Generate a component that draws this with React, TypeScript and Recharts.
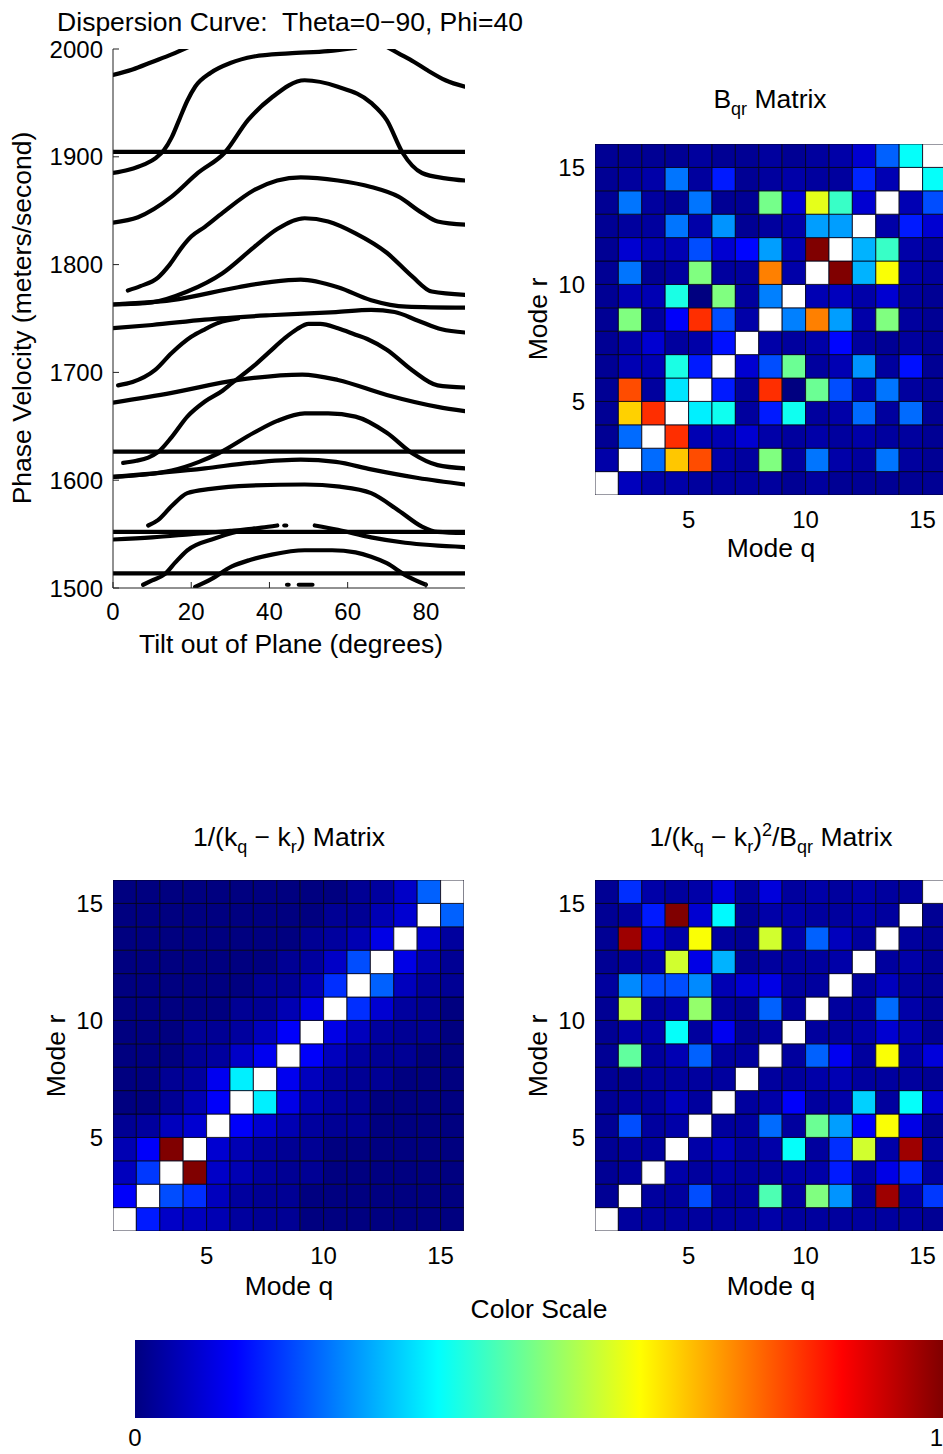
import React from "react";
import { Bar, BarChart, Cell, Line, LineChart, XAxis, YAxis } from "recharts";

const FONT = "'Liberation Sans', Arial, Helvetica, sans-serif";

type Pt = [number, number];

// ---- dispersion curves: [tilt (deg), phase velocity (m/s)] ----
const flat1904: Pt[] = [[0, 1904.5], [90, 1904.5]];
const flat1626: Pt[] = [[0, 1626.5], [90, 1626.5]];
const flat1552: Pt[] = [[0, 1552], [90, 1552]];
const flat1513: Pt[] = [[0, 1513.5], [90, 1513.5]];

const curveA: Pt[] = [[0, 1976], [5, 1981], [10, 1988], [15, 1995], [20, 2003]];
const curveB: Pt[] = [[0, 1885], [4, 1888], [8, 1893], [11, 1899], [13, 1906], [15, 1918], [17, 1935], [19, 1952], [21, 1965], [25, 1978], [30, 1987], [36, 1993], [45, 1996], [55, 1998], [62, 2001]];
const curveC: Pt[] = [[70, 2002], [73, 1996], [77, 1988], [80.5, 1980], [85, 1971], [90, 1965]];
const curveD: Pt[] = [[0, 1839], [6.4, 1844], [15, 1863], [21.7, 1885], [28.6, 1904], [34.5, 1934], [40.6, 1955], [49, 1971], [57.5, 1965], [66, 1950], [70, 1934], [74, 1904], [79, 1885], [85, 1880], [90, 1878]];
const curveE: Pt[] = [[3.8, 1776], [7, 1780], [11.5, 1788], [14.5, 1800], [17.6, 1816], [20, 1826], [23.5, 1835], [28, 1848], [36, 1869], [42, 1878], [48, 1881], [57.5, 1878], [66, 1872], [73, 1863], [79, 1848], [83, 1840], [90, 1837]];
const curveF: Pt[] = [[0, 1763], [10, 1765], [19, 1775], [28, 1792], [36, 1816], [42, 1833], [49, 1843], [55, 1840], [62, 1829], [70, 1811], [76.5, 1789], [81.5, 1775], [90, 1772]];
const curveG: Pt[] = [[0, 1763], [15, 1767], [32, 1779], [40.6, 1784], [48, 1786], [57.5, 1779], [66, 1767], [75, 1761], [90, 1760]];
const curveH: Pt[] = [[0, 1741], [10, 1744], [23.5, 1749], [40, 1753], [57, 1756], [66, 1758], [72, 1756], [78, 1748], [84, 1740], [90, 1737]];
const curveI: Pt[] = [[1.3, 1688], [5, 1691], [10.7, 1702], [15, 1718], [20, 1733], [23.5, 1740], [27, 1746], [32, 1750]];
const curveJ: Pt[] = [[0, 1672], [15, 1681], [32, 1693], [48.4, 1698], [57.5, 1693], [70, 1679], [83, 1668], [90, 1664]];
const curveK: Pt[] = [[2.6, 1616], [6, 1618], [9, 1621], [11.5, 1626], [15, 1640], [19, 1659], [23.5, 1673], [28, 1683], [30.4, 1690], [36, 1706], [40, 1719], [44, 1732], [47, 1740], [50, 1745], [53, 1745], [57.5, 1741], [62, 1735], [65, 1731], [70, 1721], [76.5, 1702], [83, 1688], [90, 1686]];
const curveL: Pt[] = [[0, 1603], [15, 1609], [22, 1617], [27, 1625], [36, 1644], [42, 1655], [49, 1662], [55, 1662], [62, 1659], [70, 1644], [76.5, 1625], [83, 1614], [90, 1611]];
const curveM: Pt[] = [[0, 1603], [23.5, 1611], [35, 1616], [48, 1619], [57, 1617], [66, 1610], [78, 1602], [90, 1596]];
const curveN: Pt[] = [[9, 1558], [11.5, 1563], [15, 1576], [19, 1588], [25, 1592], [35, 1595], [49, 1596], [58, 1594], [66, 1588], [73, 1572], [79, 1557], [83, 1552], [90, 1551]];
const curveO1: Pt[] = [[0, 1545], [10, 1547], [20, 1550], [30, 1553], [38, 1556], [42, 1558]];
const curveO2: Pt[] = [[51.6, 1558], [57.5, 1554], [66, 1547], [74.7, 1542], [90, 1538]];
const curveP: Pt[] = [[7.7, 1503], [10, 1507], [13.3, 1513], [16, 1524], [19, 1535], [26, 1546], [30.4, 1551], [36, 1555]];
const curveQ: Pt[] = [[21, 1501], [25, 1508], [30.4, 1520], [35, 1526], [40.6, 1531], [49, 1535], [56, 1535], [62, 1533], [66, 1529], [70, 1523], [74.7, 1512], [80, 1503]];
const dot44: Pt[] = [[43.8, 1558], [44.3, 1558]];
const dotBottom: Pt[] = [[44.5, 1503], [44.9, 1503]];
const dashBottom: Pt[] = [[47.5, 1503], [51, 1503]];

const dispersionCurves: Pt[][] = [
  flat1904, flat1626, flat1552, flat1513,
  curveA, curveB, curveC, curveD, curveE, curveF, curveG, curveH, curveI,
  curveJ, curveK, curveL, curveM, curveN, curveO1, curveO2, curveP, curveQ,
  dot44, dotBottom, dashBottom,
];

const tiltTicks = [0, 20, 40, 60, 80];
const velocityTicks = [1500, 1600, 1700, 1800, 1900, 2000];

// ---- matrices: rows listed from r=15 (top) down to r=1, columns q=1..15 ----
const modes = [1, 2, 3, 4, 5, 6, 7, 8, 9, 10, 11, 12, 13, 14, 15];
const modeTicks = [5, 10, 15];

const bqrMatrix: (number | null)[][] = [
  [0.02, 0.02, 0.02, 0.02, 0.03, 0.02, 0.02, 0.03, 0.02, 0.03, 0.04, 0.08, 0.22, 0.38, null],
  [0.02, 0.03, 0.04, 0.24, 0.03, 0.15, 0.02, 0.03, 0.04, 0.03, 0.03, 0.16, 0.05, null, 0.38],
  [0.02, 0.24, 0.03, 0.02, 0.24, 0.02, 0.02, 0.49, 0.08, 0.6, 0.43, 0.08, null, 0.05, 0.2],
  [0.02, 0.03, 0.03, 0.24, 0.04, 0.27, 0.02, 0.03, 0.04, 0.28, 0.28, null, 0.04, 0.15, 0.08],
  [0.02, 0.08, 0.05, 0.05, 0.2, 0.08, 0.13, 0.28, 0.05, 1.0, null, 0.3, 0.43, 0.04, 0.03],
  [0.02, 0.24, 0.02, 0.03, 0.5, 0.03, 0.03, 0.75, 0.04, null, 1.0, 0.3, 0.62, 0.04, 0.03],
  [0.02, 0.05, 0.05, 0.4, 0.0, 0.5, 0.03, 0.25, null, 0.05, 0.06, 0.04, 0.08, 0.03, 0.02],
  [0.02, 0.5, 0.03, 0.12, 0.83, 0.2, 0.04, null, 0.25, 0.75, 0.28, 0.04, 0.5, 0.03, 0.02],
  [0.02, 0.04, 0.08, 0.03, 0.04, 0.14, null, 0.04, 0.03, 0.04, 0.13, 0.03, 0.02, 0.03, 0.02],
  [0.02, 0.05, 0.05, 0.4, 0.15, null, 0.08, 0.2, 0.48, 0.03, 0.05, 0.27, 0.03, 0.14, 0.02],
  [0.02, 0.8, 0.03, 0.35, null, 0.15, 0.03, 0.83, 0.0, 0.48, 0.2, 0.04, 0.24, 0.03, 0.02],
  [0.02, 0.67, 0.83, null, 0.36, 0.39, 0.03, 0.15, 0.39, 0.03, 0.04, 0.23, 0.03, 0.23, 0.02],
  [0.02, 0.23, null, 0.83, 0.05, 0.05, 0.08, 0.04, 0.03, 0.04, 0.03, 0.04, 0.03, 0.03, 0.02],
  [0.04, null, 0.23, 0.68, 0.8, 0.04, 0.03, 0.5, 0.03, 0.24, 0.04, 0.03, 0.24, 0.03, 0.02],
  [null, 0.06, 0.04, 0.04, 0.03, 0.03, 0.03, 0.03, 0.02, 0.03, 0.02, 0.02, 0.02, 0.02, 0.02],
];

const invDkMatrix: (number | null)[][] = [
  [0, 0, 0, 0, 0, 0, 0, 0, 0, 0, 0.02, 0.03, 0.07, 0.22, null],
  [0, 0, 0, 0, 0, 0, 0, 0, 0, 0.02, 0.02, 0.05, 0.08, null, 0.22],
  [0, 0, 0, 0, 0, 0, 0, 0, 0.02, 0.03, 0.05, 0.1, null, 0.08, 0.03],
  [0, 0, 0, 0, 0, 0, 0, 0.02, 0.03, 0.07, 0.2, null, 0.1, 0.05, 0.02],
  [0, 0, 0, 0, 0, 0, 0.02, 0.02, 0.05, 0.17, null, 0.22, 0.06, 0.03, 0.02],
  [0, 0, 0, 0, 0, 0.02, 0.02, 0.05, 0.1, null, 0.17, 0.08, 0.03, 0.02, 0],
  [0, 0, 0, 0.02, 0.02, 0.03, 0.06, 0.12, null, 0.1, 0.06, 0.03, 0.02, 0.02, 0],
  [0, 0, 0, 0.02, 0.03, 0.07, 0.11, null, 0.12, 0.06, 0.03, 0.02, 0.02, 0, 0],
  [0, 0, 0.02, 0.03, 0.11, 0.36, null, 0.11, 0.06, 0.03, 0.02, 0.02, 0, 0, 0],
  [0, 0, 0.02, 0.05, 0.12, null, 0.36, 0.1, 0.05, 0.03, 0.02, 0, 0, 0, 0],
  [0.02, 0.03, 0.06, 0.08, null, 0.12, 0.08, 0.05, 0.03, 0.02, 0.02, 0, 0, 0, 0],
  [0.05, 0.12, 1.0, null, 0.08, 0.05, 0.03, 0.02, 0.02, 0, 0, 0, 0, 0, 0],
  [0.06, 0.18, null, 1.0, 0.07, 0.05, 0.03, 0.02, 0.02, 0, 0, 0, 0, 0, 0],
  [0.12, null, 0.2, 0.17, 0.06, 0.03, 0.02, 0.02, 0, 0, 0, 0, 0, 0, 0],
  [null, 0.15, 0.07, 0.06, 0.05, 0.03, 0.02, 0.02, 0, 0, 0, 0, 0, 0, 0],
];

const ratioMatrix: (number | null)[][] = [
  [0.02, 0.17, 0.04, 0.03, 0.04, 0.09, 0.03, 0.09, 0.03, 0.04, 0.03, 0.04, 0.03, 0.03, null],
  [0.02, 0.03, 0.15, 1.0, 0.08, 0.37, 0.02, 0.04, 0.04, 0.03, 0.03, 0.04, 0.03, null, 0.02],
  [0.02, 0.97, 0.08, 0.04, 0.62, 0.03, 0.02, 0.58, 0.04, 0.22, 0.06, 0.03, null, 0.03, 0.02],
  [0.02, 0.03, 0.04, 0.58, 0.1, 0.3, 0.02, 0.03, 0.03, 0.03, 0.04, null, 0.03, 0.04, 0.02],
  [0.03, 0.26, 0.2, 0.2, 0.26, 0.05, 0.08, 0.1, 0.03, 0.03, null, 0.03, 0.06, 0.03, 0.02],
  [0.02, 0.56, 0.03, 0.04, 0.52, 0.03, 0.02, 0.22, 0.03, null, 0.03, 0.03, 0.23, 0.04, 0.02],
  [0.02, 0.04, 0.04, 0.38, 0.03, 0.11, 0.02, 0.03, null, 0.03, 0.03, 0.04, 0.08, 0.05, 0.02],
  [0.02, 0.47, 0.03, 0.05, 0.22, 0.03, 0.03, null, 0.03, 0.22, 0.11, 0.03, 0.62, 0.04, 0.09],
  [0.02, 0.02, 0.03, 0.03, 0.03, 0.03, null, 0.03, 0.03, 0.04, 0.05, 0.03, 0.03, 0.03, 0.02],
  [0.02, 0.03, 0.03, 0.06, 0.03, null, 0.03, 0.04, 0.12, 0.03, 0.04, 0.33, 0.03, 0.38, 0.08],
  [0.02, 0.2, 0.03, 0.04, null, 0.03, 0.03, 0.23, 0.03, 0.48, 0.28, 0.12, 0.62, 0.1, 0.02],
  [0.02, 0.03, 0.03, null, 0.04, 0.06, 0.03, 0.04, 0.38, 0.03, 0.17, 0.58, 0.04, 0.97, 0.03],
  [0.02, 0.03, null, 0.04, 0.03, 0.04, 0.03, 0.03, 0.04, 0.04, 0.15, 0.04, 0.1, 0.16, 0.03],
  [0.02, null, 0.03, 0.03, 0.2, 0.03, 0.03, 0.45, 0.03, 0.5, 0.27, 0.03, 0.97, 0.04, 0.18],
  [null, 0.03, 0.03, 0.03, 0.03, 0.03, 0.03, 0.04, 0.03, 0.03, 0.03, 0.03, 0.03, 0.03, 0.02],
];

const colorScale = [{ name: "Color Scale", value: 1 }];
const colorStops = [0, 0.125, 0.375, 0.625, 0.875, 1];
const colorTicks = [0, 1];

// MATLAB jet colormap
function jet(v: number | null): string {
  if (v === null) return "#ffffff";
  const c = (x: number) => Math.max(0, Math.min(1, x));
  const r = c(1.5 - Math.abs(4 * v - 3));
  const g = c(1.5 - Math.abs(4 * v - 2));
  const b = c(1.5 - Math.abs(4 * v - 1));
  return `rgb(${Math.round(r * 255)},${Math.round(g * 255)},${Math.round(b * 255)})`;
}

const PLOT = 351;
const tickStyle = { fontSize: 24, fill: "#000", fontFamily: FONT };

function MatrixPanel({ left, top, values }: { left: number; top: number; values: (number | null)[][] }) {
  const data = modes.map((q) => {
    const row: Record<string, number> = { q: q + 0.5, base: 1 };
    modes.forEach((r) => {
      row[`r${r}`] = 1;
    });
    return row;
  });
  // just under the band width, otherwise recharts shrinks bars to 90%
  const cell = PLOT / modes.length - 0.1;
  return (
    <div style={{ position: "absolute", left: left - 60, top: top - 10 }}>
      <BarChart
        width={60 + PLOT + 10}
        height={10 + PLOT + 50}
        data={data}
        margin={{ top: 10, right: 10, bottom: 0, left: 0 }}
        barCategoryGap={0}
        barGap={0}
      >
        <XAxis
          dataKey="q"
          type="number"
          domain={[1, 16]}
          ticks={modeTicks}
          allowDataOverflow
          height={50}
          tickSize={0}
          tickMargin={16}
          axisLine={false}
          tick={tickStyle}
          interval={0}
        />
        <YAxis
          type="number"
          domain={[1, 16]}
          ticks={modeTicks}
          allowDataOverflow
          width={60}
          tickSize={0}
          tickMargin={10}
          axisLine={false}
          tick={tickStyle}
          interval={0}
        />
        <Bar dataKey="base" stackId="m" fill="none" barSize={cell} isAnimationActive={false} />
        {modes.map((r) => (
          <Bar
            key={r}
            dataKey={`r${r}`}
            stackId="m"
            barSize={cell}
            stroke="#000018"
            strokeWidth={0.8}
            isAnimationActive={false}
          >
            {modes.map((q) => (
              <Cell key={q} fill={jet(values[15 - r][q - 1])} />
            ))}
          </Bar>
        ))}
      </BarChart>
    </div>
  );
}

function DispersionPanel() {
  return (
    <div style={{ position: "absolute", left: 0, top: 0 }}>
      <LineChart width={480} height={670} margin={{ top: 49, right: 15, bottom: 0, left: 0 }}>
        <XAxis
          xAxisId="b"
          dataKey="t"
          type="number"
          domain={[0, 90]}
          ticks={tiltTicks}
          allowDataOverflow
          height={82}
          tickSize={-6}
          tickMargin={21}
          stroke="#222"
          tick={tickStyle}
          interval={0}
        />
        <XAxis
          xAxisId="t"
          orientation="top"
          dataKey="t"
          type="number"
          domain={[0, 90]}
          ticks={tiltTicks}
          allowDataOverflow
          height={0}
          tickSize={-6}
          tick={false}
          stroke="#222"
        />
        <YAxis
          yAxisId="l"
          type="number"
          domain={[1500, 2000]}
          ticks={velocityTicks}
          allowDataOverflow
          width={113}
          tickSize={-6}
          tickMargin={16}
          stroke="#222"
          tick={tickStyle}
          interval={0}
        />
        <YAxis
          yAxisId="r"
          orientation="right"
          type="number"
          domain={[1500, 2000]}
          ticks={velocityTicks}
          allowDataOverflow
          width={0}
          tickSize={-6}
          tick={false}
          stroke="#222"
        />
        {dispersionCurves.map((c, i) => (
          <Line
            key={i}
            xAxisId="b"
            yAxisId="l"
            data={c.map(([t, v]) => ({ t, v }))}
            dataKey="v"
            type="monotone"
            stroke="#000"
            strokeWidth={4.2}
            strokeLinecap="round"
            dot={false}
            isAnimationActive={false}
          />
        ))}
        <Line
          xAxisId="t"
          yAxisId="r"
          data={flat1904.map(([t, v]) => ({ t, v }))}
          dataKey="v"
          stroke="none"
          dot={false}
          isAnimationActive={false}
        />
      </LineChart>
    </div>
  );
}

function ColorTick(props: any) {
  const { x, y, payload } = props;
  const last = payload.value === 1;
  return (
    <text
      x={x}
      y={y}
      dy={17}
      textAnchor={last ? "end" : "middle"}
      fontSize={24}
      fontFamily={FONT}
      fill="#000"
    >
      {payload.value}
    </text>
  );
}

function ColorBar() {
  return (
    <div style={{ position: "absolute", left: 115, top: 1340 }}>
      <BarChart
        width={848}
        height={114}
        layout="vertical"
        data={colorScale}
        margin={{ top: 0, right: 20, bottom: 0, left: 20 }}
        barCategoryGap={0}
      >
        <defs>
          <linearGradient id="jetGrad" x1="0" y1="0" x2="1" y2="0">
            {colorStops.map((s) => (
              <stop key={s} offset={`${s * 100}%`} stopColor={jet(s)} />
            ))}
          </linearGradient>
        </defs>
        <XAxis
          type="number"
          domain={[0, 1]}
          ticks={colorTicks}
          height={36}
          tickSize={0}
          tickMargin={11}
          axisLine={false}
          tick={<ColorTick />}
          interval={0}
        />
        <YAxis type="category" dataKey="name" hide />
        <Bar dataKey="value" fill="url(#jetGrad)" barSize={77.9} isAnimationActive={false} />
      </BarChart>
    </div>
  );
}

const LBL = 26.5;
const SUB = 18;

export default function App() {
  return (
    <div
      style={{
        position: "absolute",
        left: 0,
        top: 0,
        width: 943,
        height: 1454,
        overflow: "hidden",
        background: "#fff",
        fontFamily: FONT,
      }}
    >
      <DispersionPanel />
      <MatrixPanel left={595} top={144} values={bqrMatrix} />
      <MatrixPanel left={113} top={880} values={invDkMatrix} />
      <MatrixPanel left={595} top={880} values={ratioMatrix} />
      <ColorBar />
      <svg
        width={943}
        height={1454}
        style={{ position: "absolute", left: 0, top: 0, pointerEvents: "none" }}
        fontFamily={FONT}
        fill="#000"
      >
        <text x={290} y={31} fontSize={LBL} textAnchor="middle" style={{ whiteSpace: "pre" }}>
          {"Dispersion Curve:  Theta=0\u221290, Phi=40"}
        </text>
        <text transform="translate(31,318) rotate(-90)" fontSize={LBL} textAnchor="middle">
          Phase Velocity (meters/second)
        </text>
        <text x={291} y={653} fontSize={LBL} textAnchor="middle">
          Tilt out of Plane (degrees)
        </text>

        <text x={770} y={108} fontSize={LBL} textAnchor="middle">
          B<tspan fontSize={SUB} dy={7}>qr</tspan>
          <tspan dy={-7}>{" Matrix"}</tspan>
        </text>
        <text transform="translate(547,319) rotate(-90)" fontSize={LBL} textAnchor="middle">
          Mode r
        </text>
        <text x={771} y={557} fontSize={LBL} textAnchor="middle">
          Mode q
        </text>

        <text x={289} y={846} fontSize={LBL} textAnchor="middle">
          1/(k<tspan fontSize={SUB} dy={7}>q</tspan>
          <tspan dy={-7}>{" \u2212 k"}</tspan>
          <tspan fontSize={SUB} dy={7}>r</tspan>
          <tspan dy={-7}>{") Matrix"}</tspan>
        </text>
        <text transform="translate(65,1056) rotate(-90)" fontSize={LBL} textAnchor="middle">
          Mode r
        </text>
        <text x={289} y={1295} fontSize={LBL} textAnchor="middle">
          Mode q
        </text>

        <text x={771} y={846} fontSize={LBL} textAnchor="middle">
          1/(k<tspan fontSize={SUB} dy={7}>q</tspan>
          <tspan dy={-7}>{" \u2212 k"}</tspan>
          <tspan fontSize={SUB} dy={7}>r</tspan>
          <tspan dy={-7}>)</tspan>
          <tspan fontSize={SUB} dy={-10}>2</tspan>
          <tspan dy={10}>/B</tspan>
          <tspan fontSize={SUB} dy={7}>qr</tspan>
          <tspan dy={-7}>{" Matrix"}</tspan>
        </text>
        <text transform="translate(547,1056) rotate(-90)" fontSize={LBL} textAnchor="middle">
          Mode r
        </text>
        <text x={771} y={1295} fontSize={LBL} textAnchor="middle">
          Mode q
        </text>

        <text x={539} y={1318} fontSize={LBL} textAnchor="middle">
          Color Scale
        </text>
      </svg>
    </div>
  );
}
